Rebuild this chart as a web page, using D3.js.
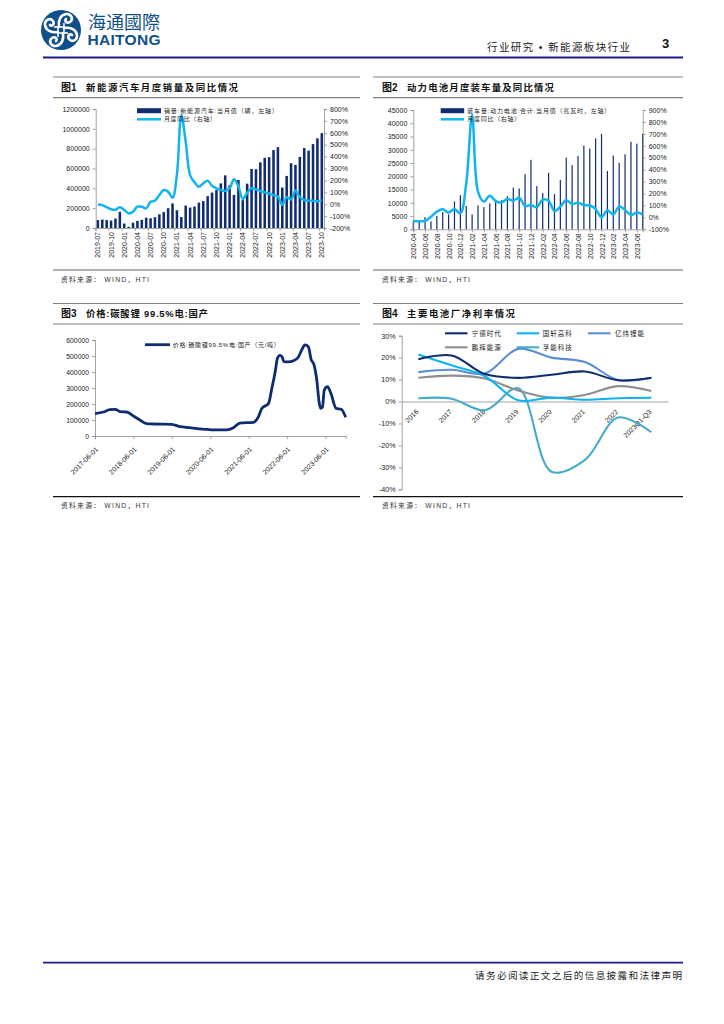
<!DOCTYPE html>
<html><head><meta charset="utf-8">
<style>html,body{margin:0;padding:0;background:#fff}svg{display:block}text{font-family:"Liberation Sans",Arial,sans-serif;fill:#1a1a1a}
.cjk{font-family:"Liberation Sans","Noto Sans CJK SC",sans-serif}</style>
<script src="https://cdn.jsdelivr.net/npm/d3@7/dist/d3.min.js"></script></head><body>
<svg id="page" width="724" height="1024"></svg>
<script>
const evMonths=["2019-07","2019-08","2019-09","2019-10","2019-11","2019-12","2020-01","2020-02","2020-03","2020-04","2020-05","2020-06","2020-07","2020-08","2020-09","2020-10","2020-11","2020-12","2021-01","2021-02","2021-03","2021-04","2021-05","2021-06","2021-07","2021-08","2021-09","2021-10","2021-11","2021-12","2022-01","2022-02","2022-03","2022-04","2022-05","2022-06","2022-07","2022-08","2022-09","2022-10","2022-11","2022-12","2023-01","2023-02","2023-03","2023-04","2023-05","2023-06","2023-07","2023-08","2023-09","2023-10"];
const evSales=[80000,85000,80000,75000,95000,163000,45000,12000,53000,72000,82000,104000,98000,109000,138000,160000,200000,248000,179000,110000,226000,206000,217000,256000,271000,321000,357000,383000,450000,531000,431000,334000,484000,281000,447000,596000,593000,662000,708000,714000,786000,815000,408000,525000,653000,636000,717000,806000,780000,846000,904000,956000];
const evYoy=[-2,-8,-25,-42,-47,-26,-49,-77,-63,-21,-21,-35,21,30,77,119,105,55,250,750,525,245,184,147,175,198,155,133,120,112,135,209,150,44,95,135,125,110,100,90,75,65,-5,60,40,115,60,35,30,28,25,32];
const evLeftTicks=[0,200000,400000,600000,800000,1000000,1200000];
const evRightTicks=[-200,-100,0,100,200,300,400,500,600,700,800];

const batMonths=["2020-04","2020-05","2020-06","2020-07","2020-08","2020-09","2020-10","2020-11","2020-12","2021-01","2021-02","2021-03","2021-04","2021-05","2021-06","2021-07","2021-08","2021-09","2021-10","2021-11","2021-12","2022-01","2022-02","2022-03","2022-04","2022-05","2022-06","2022-07","2022-08","2022-09","2022-10","2022-11","2022-12","2023-01","2023-02","2023-03","2023-04","2023-05","2023-06","2023-07"];
const batInstalled=[3000,3000,4600,3000,5100,6500,5600,10500,12900,8800,5600,9000,8400,9800,11200,11000,12500,15700,15400,20800,26200,16300,13700,21300,13300,18600,27000,24200,27700,31600,30500,34300,36000,22000,27800,25100,28300,33000,32300,36000];
const batYoy=[-30,-33,-30,5,48,68,40,70,34,285,858,215,132,182,137,126,154,140,165,95,103,85,150,140,54,90,143,112,123,104,100,70,0,60,25,90,62,20,40,25];
const batLeftTicks=[0,5000,10000,15000,20000,25000,30000,35000,40000,45000];
const batRightTicks=[-100,0,100,200,300,400,500,600,700,800,900];

const liDates=["2017-06-01","2017-08-20","2017-10-20","2017-12-10","2018-01-25","2018-03-28","2018-06-01","2018-08-01","2018-10-05","2018-12-07","2019-06-01","2019-08-20","2019-11-20","2020-01-25","2020-04-28","2020-07-01","2020-11-05","2021-01-07","2021-03-10","2021-07-15","2021-09-01","2021-10-05","2021-12-07","2022-01-07","2022-02-08","2022-03-01","2022-03-25","2022-04-15","2022-05-01","2022-06-12","2022-08-01","2022-09-15","2022-10-18","2022-11-18","2022-12-20","2023-01-15","2023-02-12","2023-03-10","2023-04-03","2023-04-15","2023-05-03","2023-05-20","2023-06-20","2023-07-22","2023-09-10","2023-10-28","2023-12-10"];
const liPrice=[140000,150000,165000,167000,152000,150000,125000,100000,77000,75000,73000,58000,52000,46000,42000,38000,38000,52000,81000,85000,120000,173000,204000,298000,402000,485000,504000,495000,465000,463000,471000,492000,538000,569000,558000,479000,444000,350000,204000,173000,179000,287000,308000,267000,173000,167000,117000];
const liYTicks=[0,100000,200000,300000,400000,500000,600000];
const liXTicks=["2017-06-01","2018-06-01","2019-06-01","2020-06-01","2021-06-01","2022-06-01","2023-06-01"];

const years=["2016","2017","2018","2019","2020","2021","2022","2023Q1-Q3"];
const catl=[19.3,21,12.5,10.8,12.2,13.7,9.7,10.8];
const gotion=[21.4,16.5,11.5,0.6,1.8,0.8,1.5,1.7];
const eve=[13.4,14.5,12.8,24,20,18,9.8,10.8];
const greatPower=[10.8,11.8,10.5,5,1.7,3,7,4.8];
const farasis=[1.5,1.3,-4,6,-32,-26.7,-7.3,-14];
const marginNames=["宁德时代","国轩高科","亿纬锂能","鹏辉能源","孚能科技"];
const marginTicks=[-40,-30,-20,-10,0,10,20,30];

const NAVY="#0f2c70",CYAN="#12b4f0",AXIS="#8c8c8c";
const svg=d3.select("#page");
function rule(x1,x2,y,c,w){svg.append("line").attr("x1",x1).attr("x2",x2).attr("y1",y).attr("y2",y).attr("stroke",c).attr("stroke-width",w);}
function txt(s,x,y,size,o={}){const t=svg.append("text").attr("class","cjk").attr("x",x).attr("y",y).attr("font-size",size).attr("dominant-baseline","central").text(s);
  if(o.w){t.attr("textLength",o.w).attr("lengthAdjust","spacing");}
  if(o.bold)t.attr("font-weight","bold");if(o.fill)t.style("fill",o.fill);if(o.anchor)t.attr("text-anchor",o.anchor);return t;}
function styleAxis(g,size=7){g.selectAll("path,line").attr("stroke",AXIS).attr("stroke-width",0.8);g.selectAll("text").attr("font-size",size).style("fill","#222");g.select(".domain").attr("stroke",AXIS);}
function vert(g){g.selectAll("text").attr("transform","rotate(-90)").attr("text-anchor","end").attr("dominant-baseline","central").attr("x",-4).attr("y",0).attr("dy",0);}
function diag(g,dx,dy){g.selectAll("text").attr("transform",`translate(${dx},${dy}) rotate(-45)`).attr("text-anchor","end").attr("dominant-baseline","central").attr("x",0).attr("y",0).attr("dy",0);}

// header
const logo=svg.append("g").attr("transform","translate(61,30)");
logo.append("circle").attr("r",20).attr("fill","#0f4f8a");
[0,90,180,270].forEach(a=>{
  const s=logo.append("g").attr("transform",`rotate(${a})`);
  s.append("path").attr("d","M-2,-3 C-3,-9 -1,-15 5,-16 C10,-16.5 13,-11 9,-8 C6,-6 3,-9 5,-11").attr("fill","none").attr("stroke","#fff").attr("stroke-width",2.6).attr("stroke-linecap","round");
  s.append("line").attr("x1",3).attr("x2",3).attr("y1",-7).attr("y2",-1).attr("stroke","#fff").attr("stroke-width",1.6);
});
logo.append("rect").attr("x",-3).attr("y",-3).attr("width",6).attr("height",6).attr("fill","none").attr("stroke","#fff").attr("stroke-width",1.5);
txt("海通國際",88,23,18,{w:72,fill:"#0f4f8a"});
txt("HAITONG",87.5,39.5,15.5,{w:73,bold:true,fill:"#0f4f8a"});
txt("行业研究 • 新能源板块行业",487,47,10.5,{w:143,fill:"#222"});
txt("3",662,43.5,13,{bold:true,fill:"#111"});
rule(43,683,57.5,"#1c1c8a",1.8);
rule(43,683,962.7,"#1c1c8a",1.8);
txt("请务必阅读正文之后的信息披露和法律声明",475,975.5,9.6,{w:207,fill:"#222"});

// panel frames
function panel(x1,x2,yTop,yMid,yBot,title,xT,wT,botCol){
  rule(x1,x2,yTop,"#808080",1.2);rule(x1,x2,yMid,"#808080",1.2);rule(x1,x2,yBot,botCol,1.2);
  txt(title[0],xT,(yTop+yMid)/2,10,{bold:true,fill:"#111"});
  txt(title[1],xT+25,(yTop+yMid)/2,9.4,{bold:true,w:wT,fill:"#111"});
  txt("资料来源：  WIND，HTI",xT,yBot+9,6.8,{w:88,fill:"#333"});
}
panel(53,360,77,97.7,270,["图1","新能源汽车月度销量及同比情况"],61,152,"#666");
panel(373,683,77,97.7,270,["图2","动力电池月度装车量及同比情况"],382,147,"#666");
panel(53,360,303.5,324,496.7,["图3","价格:碳酸锂 99.5%电:国产"],61,122,"#111");
panel(373,683,303.5,324,496.7,["图4","主要电池厂净利率情况"],382,108,"#111");

// chart 1
{
 const x=d3.scaleBand().domain(evMonths).range([95.7,324]).paddingInner(0.42).paddingOuter(0.21);
 const xp=m=>x(m)+x.bandwidth()/2;
 const yL=d3.scaleLinear().domain([0,1200000]).range([228,109]);
 const yR=d3.scaleLinear().domain([-200,800]).range([228,109]);
 svg.append("g").selectAll("rect").data(evSales).join("rect").attr("x",(d,i)=>x(evMonths[i])).attr("width",x.bandwidth()).attr("y",d=>yL(d)).attr("height",d=>228-yL(d)).attr("fill",NAVY);
 const a=svg.append("g").attr("transform","translate(95.7,0)").call(d3.axisLeft(yL).tickValues(evLeftTicks).tickFormat(d3.format("d")).tickSize(3));styleAxis(a);
 const r=svg.append("g").attr("transform","translate(324,0)").call(d3.axisRight(yR).tickValues(evRightTicks).tickFormat(d=>d+"%").tickSize(3));styleAxis(r);
 const b=svg.append("g").attr("transform","translate(0,228)").call(d3.axisBottom(x).tickValues(evMonths.filter((d,i)=>i%3==0)).tickSize(3));styleAxis(b);vert(b);
 b.selectAll(".tick line").attr("transform",`translate(${-x.step()/2},0)`);
 svg.append("path").attr("d",d3.line().x((d,i)=>xp(evMonths[i])).y(d=>yR(d)).curve(d3.curveCatmullRom.alpha(0.5))(evYoy)).attr("fill","none").attr("stroke",CYAN).attr("stroke-width",2.5);
 svg.append("rect").attr("x",137).attr("y",108.2).attr("width",24).attr("height",5).attr("fill",NAVY);
 svg.append("line").attr("x1",137).attr("x2",161).attr("y1",119.3).attr("y2",119.3).attr("stroke",CYAN).attr("stroke-width",2.5);
 txt("销量:新能源汽车:当月值（辆，左轴）",164,110.7,6,{w:114});
 txt("月度同比（右轴）",164,119.3,6,{w:52});
}
// chart 2
{
 const x=d3.scalePoint().domain(batMonths).range([413.3,642.7]);
 const yL=d3.scaleLinear().domain([0,45000]).range([229.3,110]);
 const yR=d3.scaleLinear().domain([-100,900]).range([229.3,110]);
 svg.append("g").selectAll("rect").data(batInstalled).join("rect").attr("x",(d,i)=>x(batMonths[i])-0.6).attr("width",1.2).attr("y",d=>yL(d)).attr("height",d=>229.3-yL(d)).attr("fill",NAVY);
 const a=svg.append("g").attr("transform","translate(413.3,0)").call(d3.axisLeft(yL).tickValues(batLeftTicks).tickFormat(d3.format("d")).tickSize(3));styleAxis(a);
 const r=svg.append("g").attr("transform","translate(642.7,0)").call(d3.axisRight(yR).tickValues(batRightTicks).tickFormat(d=>d+"%").tickSize(3));styleAxis(r);
 const b=svg.append("g").attr("transform","translate(0,229.3)").call(d3.axisBottom(x).tickValues(batMonths.filter((d,i)=>i%2==0)).tickSize(3));styleAxis(b);vert(b);
 svg.append("path").attr("d",d3.line().x((d,i)=>x(batMonths[i])).y(d=>yR(d)).curve(d3.curveCatmullRom.alpha(0.5))(batYoy)).attr("fill","none").attr("stroke",CYAN).attr("stroke-width",2.5);
 svg.append("rect").attr("x",440.7).attr("y",108.2).attr("width",23.5).attr("height",5).attr("fill",NAVY);
 svg.append("line").attr("x1",440.7).attr("x2",464).attr("y1",119.3).attr("y2",119.3).attr("stroke",CYAN).attr("stroke-width",2.5);
 txt("装车量:动力电池:合计:当月值（兆瓦时，左轴）",467.3,110.7,6,{w:143});
 txt("月度同比（右轴）",467.3,119.3,6,{w:53});
}
// chart 3
{
 const parse=d3.utcParse("%Y-%m-%d");
 const x=d3.scaleUtc().domain([parse("2017-06-01"),parse("2023-12-10")]).range([95,345.7]);
 const y=d3.scaleLinear().domain([0,600000]).range([436,340]);
 const a=svg.append("g").attr("transform","translate(95,0)").call(d3.axisLeft(y).tickValues(liYTicks).tickFormat(d3.format("d")).tickSize(3));styleAxis(a,6.8);
 const b=svg.append("g").attr("transform","translate(0,436)").call(d3.axisBottom(x).tickValues(liXTicks.map(parse)).tickFormat(d3.utcFormat("%Y-%m-%d")).tickSize(3));styleAxis(b,7);
 diag(b,1.5,12);
 svg.append("path").attr("d",d3.line().x((d,i)=>x(parse(liDates[i]))).y(d=>y(d)).curve(d3.curveMonotoneX)(liPrice)).attr("fill","none").attr("stroke",NAVY).attr("stroke-width",2.8).attr("stroke-linejoin","round");
 svg.append("line").attr("x1",145).attr("x2",170).attr("y1",344.7).attr("y2",344.7).attr("stroke",NAVY).attr("stroke-width",2.8);
 txt("价格:碳酸锂99.5%电:国产（元/吨）",172.7,344.7,6,{w:107});
}
// chart 4
{
 const x=d3.scaleBand().domain(years).range([401.7,668]);
 const y=d3.scaleLinear().domain([-40,30]).range([489.3,335.7]);
 const xc=d=>x(d)+x.bandwidth()/2;
 const a=svg.append("g").attr("transform","translate(401.7,0)").call(d3.axisLeft(y).tickValues(marginTicks).tickFormat(d=>d+"%").tickSize(3));styleAxis(a,7.2);
 const b=svg.append("g").attr("transform",`translate(0,${y(0)})`).call(d3.axisBottom(x).tickSize(0));styleAxis(b,7);
 diag(b,-1,9);
 const series=[[catl,"#0f2c70"],[gotion,"#0db4f0"],[eve,"#5b8fd4"],[greatPower,"#8f8f8f"],[farasis,"#45abc9"]];
 const line=d3.line().x((d,i)=>xc(years[i])).y(d=>y(d)).curve(d3.curveCatmullRom.alpha(0.5));
 series.slice().reverse().forEach(([v,c])=>svg.append("path").attr("d",line(v)).attr("fill","none").attr("stroke",c).attr("stroke-width",2.1));
 const lx=[[445,471.7],[516.7,542.7],[588,615],[445,471.7],[516.7,542.7]];
 const ly=[333.3,333.3,333.3,347.3,347.3];
 series.forEach(([v,c],i)=>{
  svg.append("line").attr("x1",lx[i][0]).attr("x2",lx[i][0]+22.5).attr("y1",ly[i]).attr("y2",ly[i]).attr("stroke",c).attr("stroke-width",2.1);
  txt(marginNames[i],lx[i][1],ly[i],6.5,{w:29});
 });
}
</script></body></html>
